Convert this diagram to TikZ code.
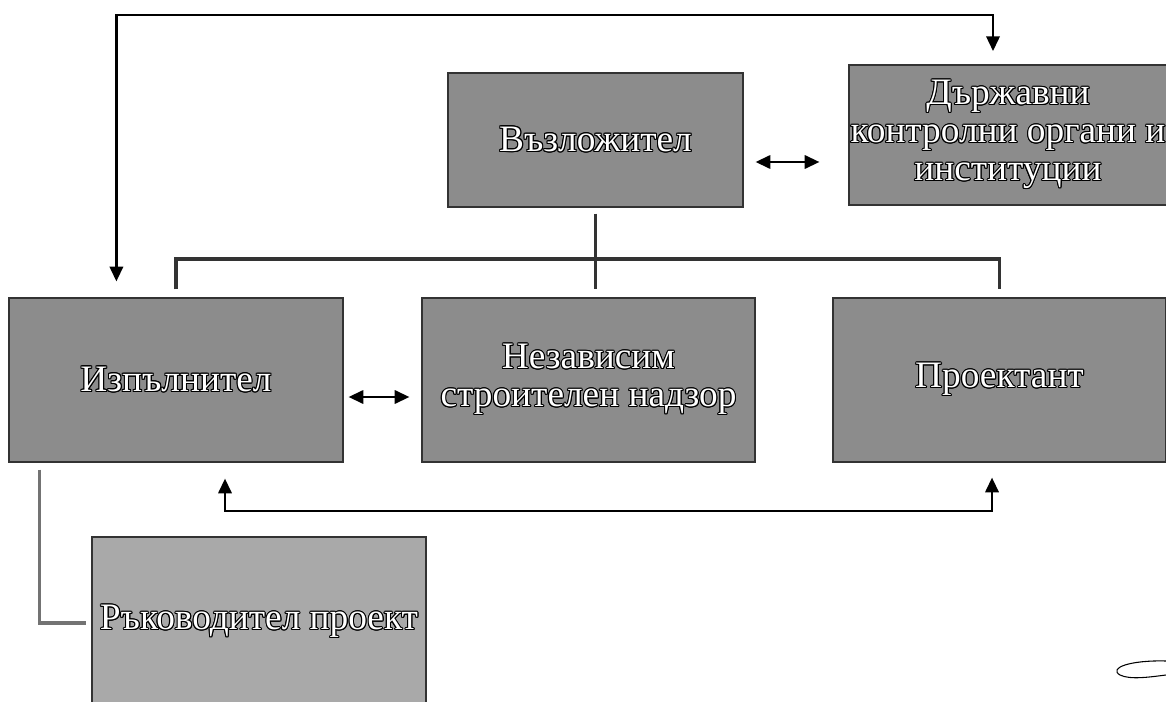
\documentclass[tikz,border=0pt]{standalone}
\usepackage{fontspec}
\setmainfont{Liberation Serif}
\usepackage{contour}
\contourlength{0.8pt}
\contournumber{12}
\usetikzlibrary{arrows.meta,calc}
\definecolor{boxgray}{HTML}{8C8C8C}
\definecolor{lightbox}{HTML}{A9A9A9}
\newcommand{\ol}[1]{\contour{black}{#1}}
\tikzset{
  box/.style={draw=black!80, line width=0.9pt, fill=boxgray, inner sep=0pt, text=white,
    align=center, font=\fontsize{28}{28.5}\selectfont},
  lightbx/.style={box, fill=lightbox},
  tree/.style={draw=black!80, line width=2.8pt},
  treeg/.style={draw=black!55, line width=2.6pt},
  conn/.style={draw=black, line width=1.7pt},
  tip/.tip={Triangle[length=11pt,width=10pt]},
}
\begin{document}
\begin{tikzpicture}[x=0.75pt,y=-0.75pt]
\useasboundingbox (0,0) rectangle (1166,702);
\clip (0,0) rectangle (1166,702);
% boxes
\node[box, minimum width=221.25pt, minimum height=100.5pt] (voz) at (595.5,140) {\ol{Възложител}};
\node[box, minimum width=238.5pt, minimum height=105pt] (darzh) at (1008,135) {\ol{Държавни}\\\ol{контролни органи и}\\\ol{институции}};
\node[box, minimum width=250.5pt, minimum height=123pt] (izp) at (176,380) {\ol{Изпълнител}};
\node[box, minimum width=249.75pt, minimum height=123pt] (nadzor) at (588.5,380) {\ol{Независим}\\\ol{строителен надзор}};
\node[box, minimum width=249.75pt, minimum height=123pt] (proekt) at (999.5,380) {\ol{Проектант}};
\node[lightbx, minimum width=250.5pt, minimum height=127.5pt] (ruk) at (259,622) {\ol{Ръководител проект}};
% tree from Възложител
\draw[tree, shorten <=4.5pt, shorten >=6pt] (voz.south) -- (voz.south |- nadzor.north);
\draw[tree] ([yshift=6pt]izp.north) |- ($(voz.south)!0.57!(nadzor.north)$) -| ([yshift=6pt]proekt.north);
% top connector
\coordinate (s1) at ([xshift=81pt,yshift=12pt]izp.north west);
\coordinate (e1) at ([xshift=-11.25pt,yshift=10pt]darzh.north);
\draw[conn, tip-tip] (s1) -- (s1 |- 0,15) -| (e1);
% double arrows
\draw[conn, tip-tip] ($(voz.east)+(12,22)$) -- ($(darzh.west)+(-29,27)$);
\draw[conn, tip-tip] ($(izp.east)+(5,17)$) -- ($(nadzor.west)+(-12,17)$);
% bottom connector
\coordinate (s2) at ($(izp.south)+(49,16)$);
\coordinate (e2) at ($(proekt.south)+(-7.5,15)$);
\draw[conn, tip-tip] (s2) -- (s2 |- 0,511) -| (e2);
% to Ръководител проект
\draw[treeg] ($(izp.south west)+(31,7)$) |- ($(ruk.west)+(-5,1)$);
% scan mark
\draw[black, line width=0.8pt] (1166,661) .. controls (1130,660) and (1108,668) .. (1120,675) .. controls (1130,680) and (1150,677) .. (1166,675);
\end{tikzpicture}
\end{document}
